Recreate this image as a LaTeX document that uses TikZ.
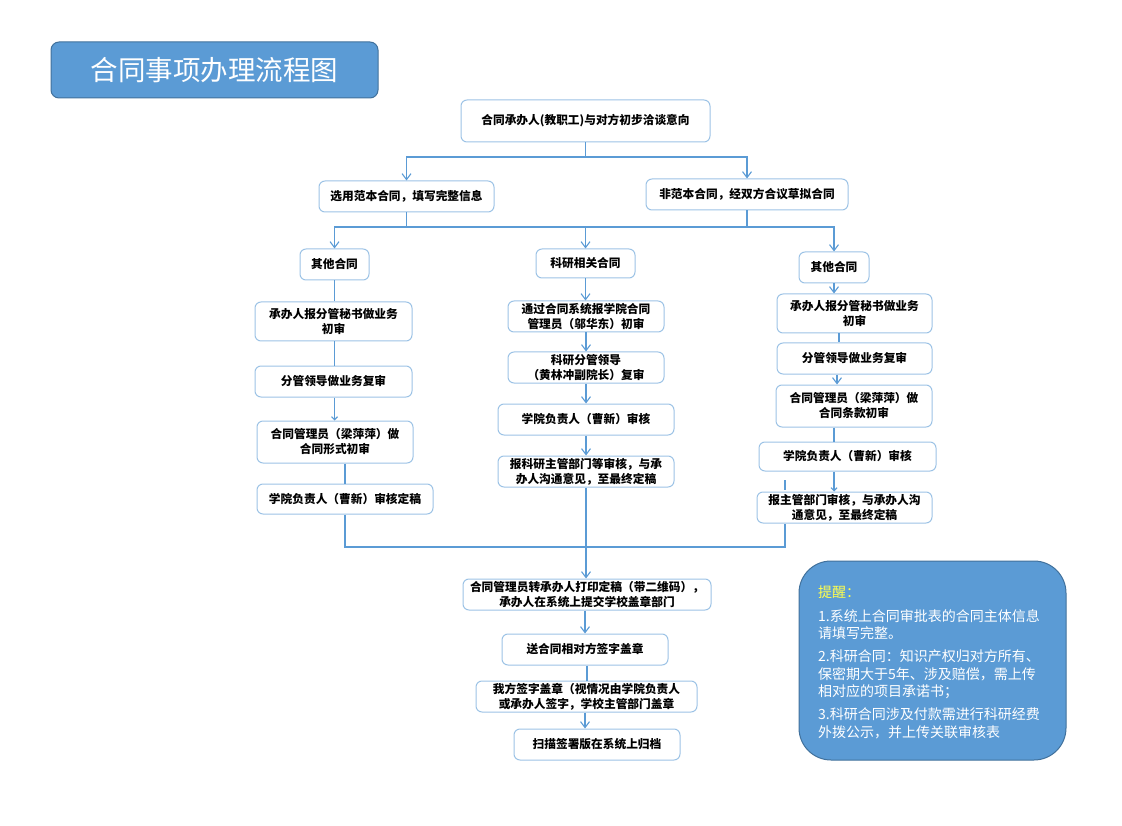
\documentclass[tikz,border=0pt]{standalone}
\usepackage{fontspec}
\setmainfont{Noto Sans CJK SC}
\usetikzlibrary{arrows.meta}
\definecolor{lnc}{HTML}{5B9BD5}
\definecolor{bxc}{HTML}{9DC3E6}
\definecolor{ttl}{HTML}{5B9BD5}
\definecolor{ttb}{HTML}{41719C}
\definecolor{yel}{HTML}{FFFF4D}
\begin{document}
\begin{tikzpicture}[x=1pt,y=-1pt,
 bx/.style={draw=bxc, fill=white, line width=1pt, rounded corners=6pt, align=center, inner sep=0pt, font=\bfseries\fontsize{11.7}{15}\selectfont, text=black},
 ln/.style={draw=lnc, line width=1.1pt},
 ar/.style={ln, -{Straight Barb[length=6pt,width=9pt]}},
 sar/.style={ln, -{Straight Barb[length=3pt,width=6pt]}},
 nt/.style={anchor=base west, inner sep=0pt, text=white, font=\fontsize{14}{17.5}\selectfont},
]
\useasboundingbox (0,0) rectangle (1122,826);

% title
\node[draw=ttb, fill=ttl, line width=1pt, rounded corners=8pt, minimum width=327pt, minimum height=56pt, inner sep=0pt, text=white, font=\fontsize{27.5}{30}\selectfont] (title) at (214.5,70) {合同事项办理流程图};

% top
\node[bx, minimum width=249pt, minimum height=42pt] (top) at (585.5,121) {合同承办人(教职工)与对方初步洽谈意向};
\node[bx, minimum width=175pt, minimum height=31pt] (sel) at (406.5,196.5) {选用范本合同，填写完整信息};
\node[bx, minimum width=202pt, minimum height=31pt] (fei) at (747,194.5) {非范本合同，经双方合议草拟合同};

\node[bx, minimum width=69pt, minimum height=31pt] (oL) at (334.5,264.5) {其他合同};
\node[bx, minimum width=99pt, minimum height=29pt] (oM) at (585.5,263.5) {科研相关合同};
\node[bx, minimum width=70pt, minimum height=31pt] (oR) at (834,267.5) {其他合同};

% left column
\node[bx, minimum width=157pt, minimum height=39pt] (a1) at (333.5,321.5) {承办人报分管秘书做业务\\初审};
\node[bx, minimum width=157pt, minimum height=31pt] (a2) at (333.5,381.5) {分管领导做业务复审};
\node[bx, minimum width=156pt, minimum height=42pt] (a3) at (335,442) {合同管理员（梁萍萍）做\\合同形式初审};
\node[bx, minimum width=176pt, minimum height=30pt] (a4) at (345,499) {学院负责人（曹新）审核定稿};

% middle column
\node[bx, minimum width=156pt, minimum height=31pt] (m1) at (586,316.5) {通过合同系统报学院合同\\管理员（邬华东）初审};
\node[bx, minimum width=156pt, minimum height=31pt] (m2) at (586,367.5) {科研分管领导\\（黄林冲副院长）复审};
\node[bx, minimum width=176pt, minimum height=31pt] (m3) at (586,419.5) {学院负责人（曹新）审核};
\node[bx, minimum width=176pt, minimum height=31pt] (m4) at (586,471.5) {报科研主管部门等审核，与承\\办人沟通意见，至最终定稿};

% right column
\node[bx, minimum width=155pt, minimum height=39pt] (r1) at (854.5,313.5) {承办人报分管秘书做业务\\初审};
\node[bx, minimum width=155pt, minimum height=31pt] (r2) at (854.5,358.5) {分管领导做业务复审};
\node[bx, minimum width=156pt, minimum height=42pt] (r3) at (854,406) {合同管理员（梁萍萍）做\\合同条款初审};
\node[bx, minimum width=177pt, minimum height=29pt] (r4) at (847.5,456.5) {学院负责人（曹新）审核};
\node[bx, minimum width=175pt, minimum height=31pt] (r5) at (844.5,507.5) {报主管部门审核，与承办人沟\\通意见，至最终定稿};

% bottom column
\node[bx, minimum width=248pt, minimum height=31pt] (b1) at (587,594.5) {合同管理员转承办人打印定稿（带二维码），\\承办人在系统上提交学校盖章部门};
\node[bx, minimum width=166pt, minimum height=31pt] (b2) at (585,649.5) {送合同相对方签字盖章};
\node[bx, minimum width=221pt, minimum height=31pt] (b3) at (586.5,696.5) {我方签字盖章（视情况由学院负责人\\或承办人签字，学校主管部门盖章};
\node[bx, minimum width=166pt, minimum height=31pt] (b4) at (597,744.5) {扫描签署版在系统上归档};

% note
\node[draw=ttb, fill=ttl, line width=1pt, rounded corners=32pt, minimum width=267pt, minimum height=199pt, inner sep=0pt] (note) at (932.5,660.5) {};
\node[nt, text=yel] (n0) at (818,597) {提醒：};
\node[nt] (n1) at (818,621) {1.系统上合同审批表的合同主体信息};
\node[nt] (n2) at (818,638.5) {请填写完整。};
\node[nt] (n3) at (818,661.5) {2.科研合同：知识产权归对方所有、};
\node[nt] (n4) at (818,679) {保密期大于5年、涉及赔偿，需上传};
\node[nt] (n5) at (818,696.5) {相对应的项目承诺书；};
\node[nt] (n6) at (818,719.5) {3.科研合同涉及付款需进行科研经费};
\node[nt] (n7) at (818,737) {外拨公示，并上传关联审核表};

% connectors top
\coordinate (j1) at (585.5,157);
\draw[ln] (top.south) -- (j1);
\draw[ar] (j1) -| (sel.north);
\draw[ar] (j1) -| (fei.north);
\coordinate (j2) at (585.5,227);
\draw[ln] (sel.south) -- (sel.south |- j2);
\draw[ln] (fei.south) -- (fei.south |- j2);
\draw[ar] (j2) -| (oL.north);
\draw[ar] (j2) -| (oR.north);
\draw[ar] (j2) -- (oM.north);

% left connectors
\draw[ln] (oL.south) -- (a1.north -| oL.south);
\draw[ln] (a1.south -| oL.south) -- (a2.north -| oL.south);
\draw[sar] (a2.south -| oL.south) -- (a3.north -| oL.south);
\draw[ln] (a3.south -| a4.north) -- (a4.north);
\coordinate (j3) at (785,547);
\draw[ln] (a4.south) |- (j3) -- (j3 |- r5.south);

% middle connectors
\draw[ar] (oM.south) -- (m1.north -| oM.south);
\draw[ar] (m1.south) -- (m2.north);
\draw[ar] (m2.south) -- (m3.north);
\draw[ar] (m3.south) -- (m4.north);
\draw[ar] (m4.south) -- (b1.north -| m4.south);

% right connectors
\draw[ar] (oR.south) -- (r1.north -| oR.south);
\draw[ln] ([xshift=-15.5pt]r1.south) -- ([xshift=-15.5pt]r2.north);
\draw[ar] ([xshift=-17.5pt]r2.south) -- ([xshift=-17pt]r3.north);
\draw[ln] ([xshift=-20pt]r3.south) -- ([xshift=-13.5pt]r4.north);
\draw[sar] ([xshift=-13.5pt]r4.south) -- ([xshift=-10.5pt]r5.north);
\coordinate (s1) at (785,480);
\coordinate (s2) at (785,490);
\draw[ln] (s1) -- (s2);

% bottom connectors
\draw[ar] ([xshift=-2pt]b1.south) -- (b2.north);
\draw[ln] ([xshift=2pt]b2.south) -- ([xshift=0.5pt]b3.north);
\draw[ar] ([xshift=-1.5pt]b3.south) -- ([xshift=-12pt]b4.north);
\end{tikzpicture}
\end{document}
